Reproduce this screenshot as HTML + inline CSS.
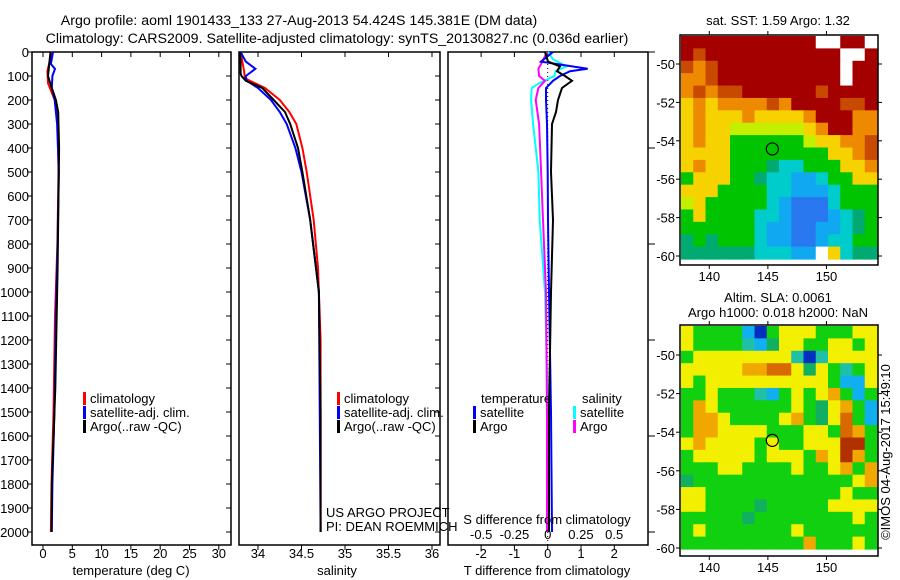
<!DOCTYPE html>
<html><head><meta charset="utf-8"><style>
body{margin:0;background:#fff;}
svg{display:block;font-family:"Liberation Sans",sans-serif;}
text{font-size:13px;fill:#000;}
text.big{font-size:14.2px;}
</style></head><body>
<svg id="chart" width="900" height="580" viewBox="0 0 900 580">
<g id="g-titles">
<text class="big" x="299" y="25" text-anchor="middle">Argo profile: aoml 1901433_133 27-Aug-2013 54.424S 145.381E (DM data)</text>
<text class="big" x="337" y="43" text-anchor="middle">Climatology: CARS2009. Satellite-adjusted climatology: synTS_20130827.nc (0.036d earlier)</text>
<text x="778" y="25" text-anchor="middle">sat. SST: 1.59 Argo: 1.32</text>
<text x="778" y="302" text-anchor="middle">Altim. SLA: 0.0061</text>
<text x="778" y="317" text-anchor="middle">Argo h1000: 0.018 h2000: NaN</text>
<text transform="translate(890,452) rotate(-90)" text-anchor="middle">©IMOS 04-Aug-2017 15:49:10</text>
</g>
<g id="g-p1"></g>
<g id="g-p2"></g>
<g id="g-p3"></g>
<g id="g-m1"></g>
<g id="g-m2"></g>
</svg>
<script>
const NS="http://www.w3.org/2000/svg";
// ---- data ----
const depthTicks=[0,100,200,300,400,500,600,700,800,900,1000,1100,1200,1300,1400,1500,1600,1700,1800,1900,2000];
const tempTicks=[0,5,10,15,20,25,30];
const salTicks=[34,34.5,35,35.5,36];
const tdiffTicks=[-2,-1,0,1,2];
const sdiffTicks=[-0.5,-0.25,0,0.25,0.5];
const tClimDepth=[0,80,130,200,300,500,800,1100,1500,1800,2000];
const tClim=[1.5,0.75,0.85,2.0,2.55,2.65,2.45,2.05,1.8,1.45,1.35];
const tSatDepth=[0,50,70,100,150,200,300,500,800,1100,1500,1800,2000];
const tSat=[1.7,1.35,2.05,1.6,1.5,2.0,2.4,2.7,2.5,2.2,1.95,1.6,1.5];
const tArgoDepth=[0,100,150,200,250,400,600,900,1400,1800,2000];
const tArgo=[1.28,0.85,1.5,2.2,2.6,2.75,2.65,2.5,2.1,1.5,1.45];
const sClimDepth=[0,80,110,150,200,250,300,400,500,700,900,1200,2000];
const sClim=[33.8,33.84,33.85,34.08,34.25,34.36,34.44,34.51,34.56,34.64,34.69,34.72,34.72];
const sSatDepth=[0,40,70,100,120,150,200,250,300,400,500,700,1000,2000];
const sSat=[33.8,33.86,33.97,33.86,33.87,34.0,34.15,34.25,34.33,34.43,34.5,34.6,34.7,34.72];
const sArgoDepth=[0,50,90,100,120,150,200,250,300,400,500,700,1000,1500,2000];
const sArgo=[33.79,33.8,33.8,33.81,33.86,34.05,34.18,34.31,34.37,34.46,34.51,34.6,34.7,34.72,34.72];
const dTArgoDepth=[0,40,60,80,100,120,150,200,250,300,500,700,1000,1500,2000];
const dTArgo=[-0.08,0.01,0.37,0.28,0.52,0.73,0.43,0.31,0.25,0.13,0.10,0.16,0.10,0.04,0.04];
const dTSatDepth=[0,40,70,80,100,120,150,200,300,500,700,1000,1500,2000];
const dTSat=[0.16,-0.2,1.2,0.67,0.37,0.16,-0.05,-0.05,-0.02,0,0.01,0.04,0.1,0.13];
const dSSatDepth=[0,30,60,80,100,130,150,200,300,500,700,1000,1500,2000];
const dSSat=[0.002,0.04,0.14,0.06,0.05,-0.065,-0.12,-0.125,-0.11,-0.07,-0.06,-0.02,0.002,0.002];
const dSArgoDepth=[0,40,70,100,120,150,200,300,500,700,1000,1500,2000];
const dSArgo=[-0.005,-0.04,-0.07,-0.065,-0.02,-0.07,-0.09,-0.065,-0.05,-0.035,-0.013,-0.005,-0.005];
const lonTicks=[140,145,150];
const latTicks=[-50,-52,-54,-56,-58,-60];
const sstGrid=[
"RRRRRRRRRRRWWRRW","RORRRRRRRRRRRWWR","OoORRRRRRRRRRWRR","ooORRRRRRRRRRWRR",
"oOoOORRRRRRORRRR","YoYooooOoRRRROOR","YoYYYoYYYYoRRRoo","YoYYyyyyyyYoRRoo",
"YoYYGGGGGGyYYooO","YYYYGGGGGGGGYYoO","YoYYGGGgCCGGGYYo","GYYYGGgCCBBCGGYY",
"YYYGGGGCCBBBCGGG","yYGGGGGCBbbbCGGG","GYGGGGCCBbbbBCgG","GGGGGGCBBbbBBCgG",
"gGgGGGCBBbbBCCGG","ggggggCCCBBWYCgg"];
const slaGrid=[
"YGGGGBbGYYYGGGYY","YGGGGCBgYYGGYYGY","GYYYYYYYYCbCYYYY","YYYYYooOOYgYGCGY",
"YGYYYYYYYYYYGBBY","GGYGGGCBGYGYoGBG","GoYGGGGGGYGgYoGB","GooYGGGGYoGgYOGB",
"GooYYYYGGGYYGOoG","YoYYYYGYGGYYYRRG","GYYYYYGYYYGoYRoG","GGGYYGGGGYGGYoGo",
"gGGGGGGGGGGGGGYo","YYGGGGGGGGGGGYGG","YYGGGGgGGGGGYYYY","GGGGGgGGGGGGGGYG",
"GYGGGGGGGYGGGGGG","GGGGGGGGGGoGGGYG"];
const sstColors={R:"#a40000",O:"#c84a00",o:"#ee8a00",Y:"#f6d200",y:"#c4f000",G:"#00c400",g:"#00aa70",C:"#00cccc",B:"#10a8f0",b:"#2a78f0",W:"#ffffff"};
const slaColors={R:"#b03000",O:"#d86800",o:"#f0a800",Y:"#f2f000",y:"#c0f000",G:"#10d010",g:"#10b060",C:"#20c0a8",B:"#10b0f0",b:"#0030c0"};
const argoLon=145.381, argoLat=-54.424;

function el(tag,attrs,parent){const e=document.createElementNS(NS,tag);for(const k in attrs)e.setAttribute(k,attrs[k]);parent.appendChild(e);return e;}
const yD=d=>52+d*0.24;
const xT=t=>43+t*5.86;
const xS=s=>258+(s-34)*87;
const xDT=v=>547.7+v*33.3;
const xDS=v=>547.7+v*133;

function frame(g,x0,x1,name){
  const r=el('rect',{x:x0,y:52,width:x1-x0,height:493,fill:'none',stroke:'#000','stroke-width':1.5},g);
  
  
}
function line(g,depths,vals,xf,color,name,clip){
  const pts=depths.map((d,i)=>{let x=xf(vals[i]);if(clip)x=Math.max(clip,x);return x.toFixed(1)+','+yD(d).toFixed(1);}).join(' ');
  const p=el('polyline',{points:pts,fill:'none',stroke:color,'stroke-width':2},g);
  
  
}
function xTicks(g,ticks,xf,y,labelY,fmt){
  ticks.forEach(t=>{const x=xf(t);
    el('line',{x1:x,y1:545,x2:x,y2:550,stroke:'#000'},g);
    el('line',{x1:x,y1:52,x2:x,y2:57,stroke:'#000'},g);
    const tx=el('text',{x:x,y:labelY,'text-anchor':'middle'},g);tx.textContent=fmt?fmt(t):t;
    
    
  });
}
function yTicks(g,x0,x1,labels){
  depthTicks.forEach(d=>{const y=yD(d);
    el('line',{x1:x1-5,y1:y,x2:x1,y2:y,stroke:'#000'},g);
    if(labels){el('line',{x1:x0-5,y1:y,x2:x0,y2:y,stroke:'#000'},g);
      const tx=el('text',{x:x0-3,y:y+5,'text-anchor':'end'},g);tx.textContent=d;
      
      }
  });
}
function txt(g,x,y,s,name,anchor){const t=el('text',{x:x,y:y,'text-anchor':anchor||'start'},g);t.textContent=s;
  
  return t;}
function legend(g,x,y,color,label,name){
  const r=el('rect',{x:x,y:y-11,width:3,height:13,fill:color},g);
  
  
  txt(g,x+7,y,label,name);
}
// panel 1
const p1=document.getElementById('g-p1');
frame(p1,32,231,'temperature-frame');
yTicks(p1,32,231,true);
xTicks(p1,tempTicks,xT,545,558);
line(p1,tClimDepth,tClim,xT,'#f00','temp-climatology-line');
line(p1,tSatDepth,tSat,xT,'#00f','temp-satellite-line');
line(p1,tArgoDepth,tArgo,xT,'#000','temp-argo-line');
txt(p1,131,575,'temperature (deg C)','temperature-axis-title','middle');
legend(p1,83,403,'#f00','climatology','legend-climatology');
legend(p1,83,417,'#00f','satellite-adj. clim.','legend-satellite');
legend(p1,83,431,'#000','Argo(..raw -QC)','legend-argo');
// panel 2
const p2=document.getElementById('g-p2');
frame(p2,239,440,'salinity-frame');
yTicks(p2,239,440,false);
xTicks(p2,salTicks,xS,545,558);
line(p2,sClimDepth,sClim,xS,'#f00','sal-climatology-line',240);
line(p2,sSatDepth,sSat,xS,'#00f','sal-satellite-line',240);
line(p2,sArgoDepth,sArgo,xS,'#000','sal-argo-line',240);
txt(p2,337,575,'salinity','salinity-axis-title','middle');
legend(p2,337,403,'#f00','climatology','legend-climatology');
legend(p2,337,417,'#00f','satellite-adj. clim.','legend-satellite');
legend(p2,337,431,'#000','Argo(..raw -QC)','legend-argo');
txt(p2,326,517,'US ARGO PROJECT','project-label');
txt(p2,326,531,'PI: DEAN ROEMMICH','pi-label');
// panel 3
const p3=document.getElementById('g-p3');
frame(p3,448,648,'difference-frame');
depthTicks.forEach(d=>{const y=yD(d);if(d%400==0)el('line',{x1:648,y1:y,x2:655,y2:y,stroke:'#000'},p3);});
xTicks(p3,tdiffTicks,xDT,545,558);
el('line',{x1:xDT(0),y1:52,x2:xDT(0),y2:545,stroke:'#000','stroke-dasharray':'1,3'},p3);
line(p3,dSSatDepth,dSSat,xDS,'#0ff','sdiff-satellite-line');
line(p3,dSArgoDepth,dSArgo,xDS,'#f0f','sdiff-argo-line');
line(p3,dTSatDepth,dTSat,xDT,'#00f','tdiff-satellite-line');
line(p3,dTArgoDepth,dTArgo,xDT,'#000','tdiff-argo-line');
sdiffTicks.forEach(t=>{const tx=txt(p3,xDS(t),539,t,'s-tick-label','middle');});
txt(p3,547,524,'S difference from climatology','sdiff-axis-title','middle');
txt(p3,547,575,'T difference from climatology','tdiff-axis-title','middle');
txt(p3,481,403,'temperature','legend-temp-header');
txt(p3,582,403,'salinity','legend-sal-header');
legend(p3,473,417,'#00f','satellite','legend-t-satellite');
legend(p3,473,431,'#000','Argo','legend-t-argo');
legend(p3,573,417,'#0ff','satellite','legend-s-satellite');
legend(p3,573,431,'#f0f','Argo','legend-s-argo');
// maps
const lonMin=137.5,lonMax=154.4;
function map(g,grid,colors,top,dataBottom,frameBottom,latPix,name){
  const x0=681,x1=877,rows=grid.length,cols=grid[0].length;
  const cw=(x1-x0)/cols,ch=(dataBottom-top)/rows;
  grid.forEach((row,r)=>{[...row].forEach((c,k)=>{
    const rc=el('rect',{x:(x0+k*cw).toFixed(2),y:(top+r*ch).toFixed(2),width:(cw+0.6).toFixed(2),height:(ch+0.6).toFixed(2),fill:colors[c]},g);
    
    
  });});
  const fr=el('rect',{x:680,y:top-1,width:198,height:frameBottom-top+1,fill:'none',stroke:'#000','stroke-width':1.5},g);
  
  
  const xl=v=>680+(v-lonMin)/(lonMax-lonMin)*198;
  lonTicks.forEach(v=>{const x=xl(v);
    el('line',{x1:x,y1:frameBottom,x2:x,y2:frameBottom+4,stroke:'#000'},g);
    el('line',{x1:x,y1:top-1,x2:x,y2:top-5,stroke:'#000'},g);
    txt(g,x,frameBottom+16,v,'lon-tick-label','middle');});
  latTicks.forEach(v=>{const y=latPix(v);
    el('line',{x1:878,y1:y,x2:882,y2:y,stroke:'#000'},g);
    el('line',{x1:676,y1:y,x2:680,y2:y,stroke:'#000'},g);
    txt(g,675,y+5,v,'lat-tick-label','end');});
  const c=el('circle',{cx:xl(argoLon),cy:latPix(argoLat),r:6,fill:'none',stroke:'#000','stroke-width':1.2},g);
  
  
}
map(document.getElementById('g-m1'),sstGrid,sstColors,36,259,265,v=>64+(-50-v)*19.2,'sst-map');
map(document.getElementById('g-m2'),slaGrid,slaColors,326,549,556,v=>355+(-50-v)*19.3,'sla-map');
</script>
</body></html>
